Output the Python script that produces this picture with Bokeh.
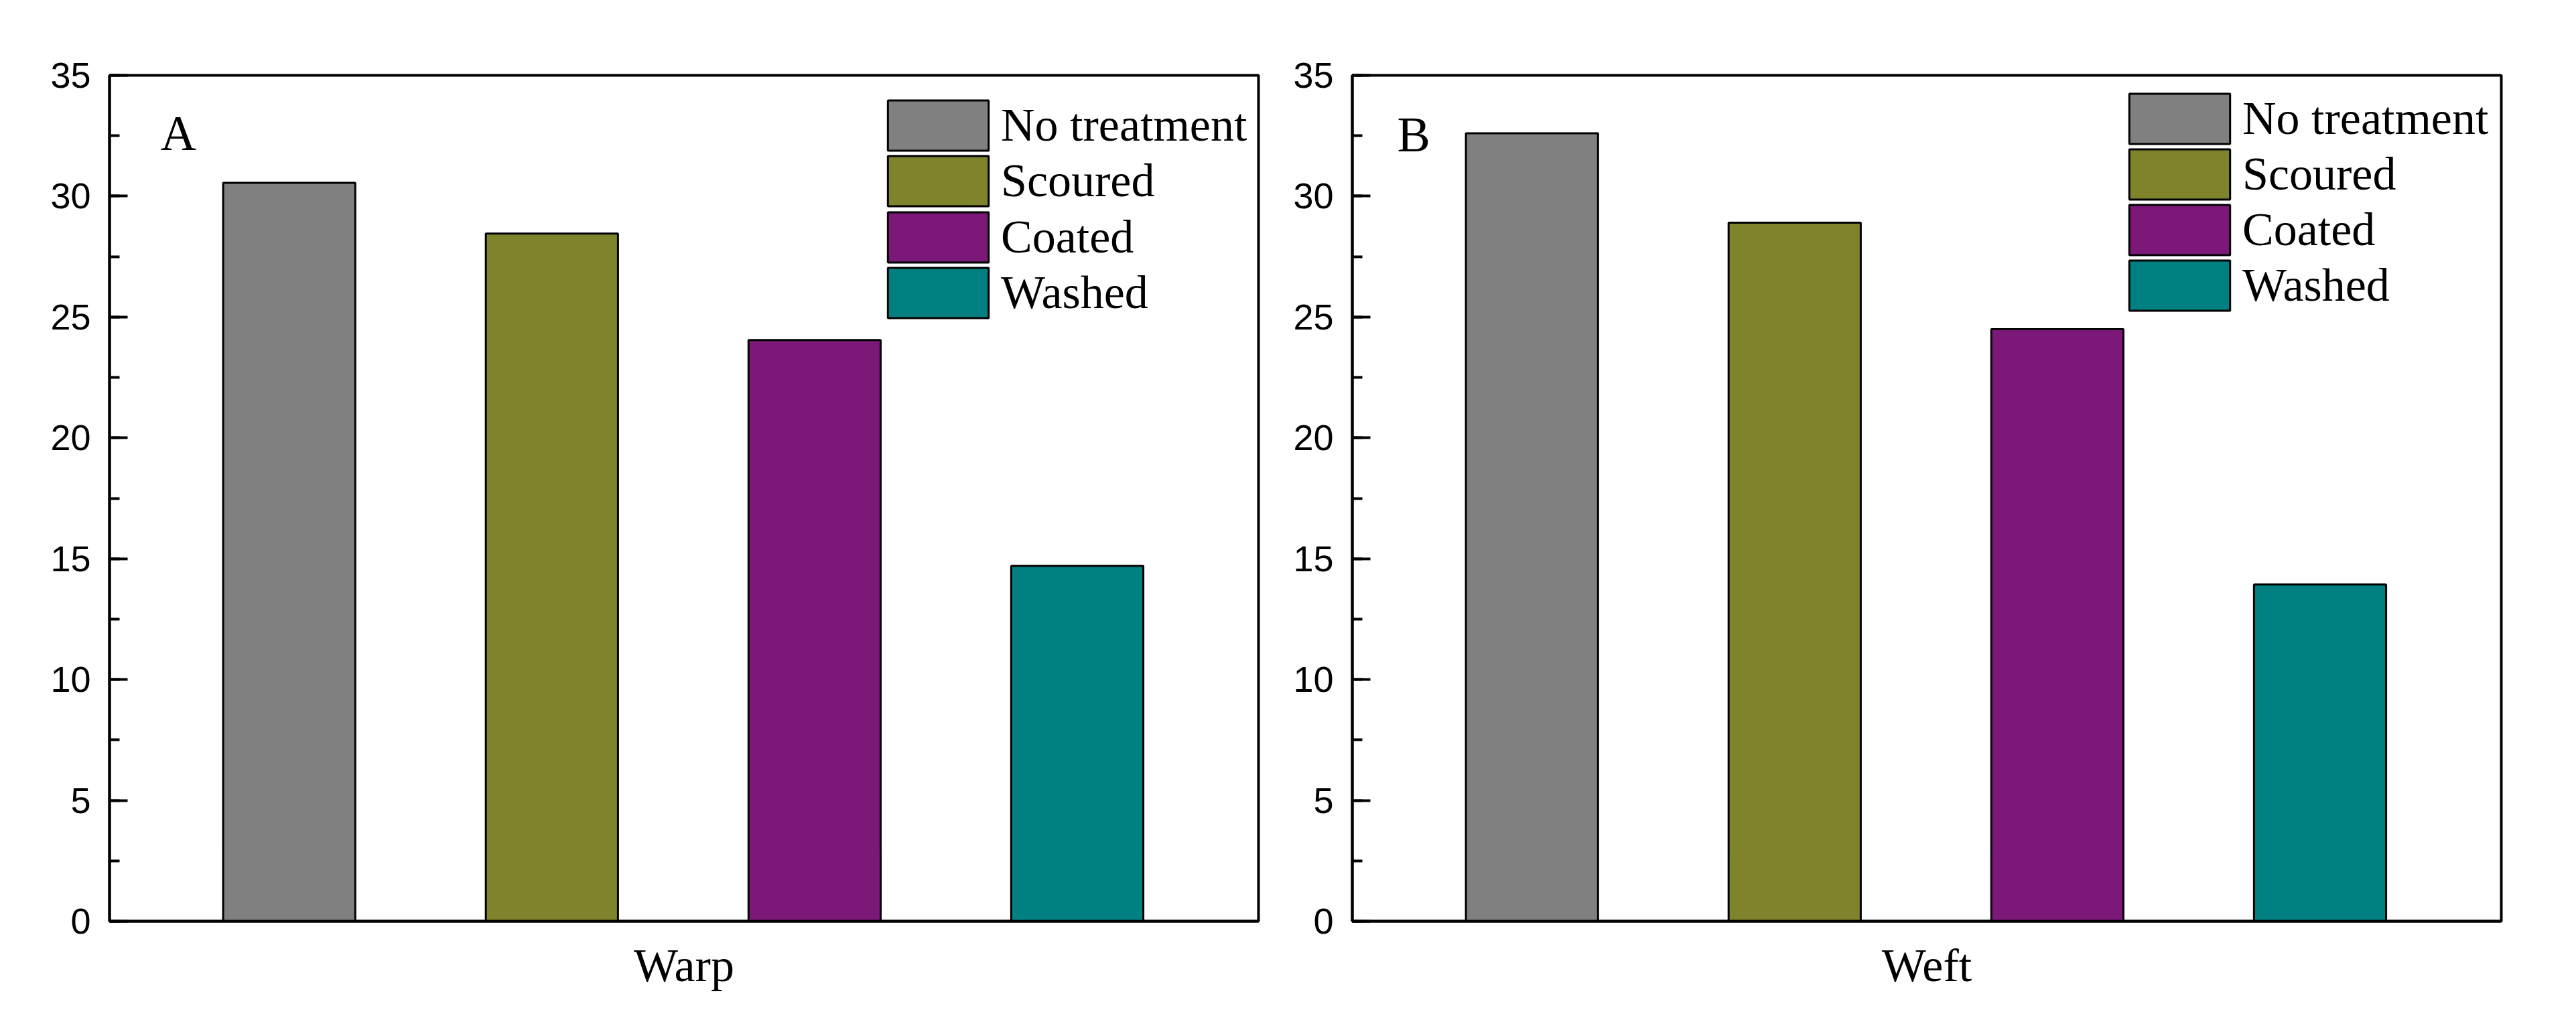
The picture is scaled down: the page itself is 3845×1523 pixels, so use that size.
from bokeh.plotting import figure
from bokeh.models import (ColumnDataSource, SingleIntervalTicker, FixedTicker, Range1d,
                          Legend, LegendItem)
from bokeh.layouts import row
from bokeh.embed import file_html
from bokeh.resources import INLINE
from bokeh.core.properties import value

# ---- data ----
treatments = ["No treatment", "Scoured", "Coated", "Washed"]
positions = [1, 2, 3, 4]
colors = ["#808080", "#7F832B", "#7B1878", "#008080"]
warp = [30.55, 28.45, 24.05, 14.7]
weft = [32.6, 28.9, 24.5, 13.93]
panel_letters = ["A", "B"]
axis_titles = ["Warp", "Weft"]

SERIF = "Liberation Serif"
SANS = "Liberation Sans"

FRAME_H = 1263
GLYPH_H = 94   # bokeh insets area swatches by 10% per side -> ~75 px boxes
GLYPH_W = 188  # -> ~150 px boxes


def make_panel(vals, letter, xtitle, width, bl, br, leg_x, leg_top, leg_pitch, letter_x, letter_y):
    src = ColumnDataSource(dict(x=positions, top=vals, color=colors, label=treatments))
    p = figure(width=width, height=1507, output_backend="svg", toolbar_location=None,
               x_range=Range1d(0.316, 4.69), y_range=Range1d(0, 35),
               min_border_left=bl, min_border_right=br, min_border_top=112,
               min_border_bottom=132)
    p.grid.visible = False
    p.background_fill_color = "white"
    p.border_fill_color = "white"
    p.outline_line_color = "black"
    p.outline_line_width = 4

    r = p.vbar(x="x", top="top", width=0.503, bottom=0, source=src,
               fill_color="color", line_color="black", line_width=3)

    # y axis
    ya = p.yaxis[0]
    ya.ticker = SingleIntervalTicker(interval=5, num_minor_ticks=2)
    ya.axis_line_width = 4
    ya.major_tick_in = 27
    ya.major_tick_out = 0
    ya.minor_tick_in = 15
    ya.minor_tick_out = 0
    ya.major_tick_line_width = 4
    ya.minor_tick_line_width = 4
    ya.major_label_standoff = 28
    ya.major_label_text_font = SANS
    ya.major_label_text_font_size = "54px"
    ya.major_label_text_color = "black"

    # x axis
    xa = p.xaxis[0]
    xa.ticker = FixedTicker(ticks=[])
    xa.axis_line_width = 4
    xa.major_tick_in = 0
    xa.major_tick_out = 0
    xa.minor_tick_in = 0
    xa.minor_tick_out = 0
    xa.major_label_standoff = 0
    xa.axis_label = xtitle
    xa.axis_label_text_font = SERIF
    xa.axis_label_text_font_size = "70px"
    xa.axis_label_text_font_style = "normal"
    xa.axis_label_text_color = "black"
    xa.axis_label_standoff = 27

    # panel letter
    p.text(x=[letter_x], y=[letter_y], text=[letter], text_font=value(SERIF),
           text_font_size="74px", text_color="black", text_baseline="alphabetic",
           text_align="left")

    # one single-item legend per treatment so the boxes can sit close together
    for i, name in enumerate(treatments):
        top_off = leg_top + i * leg_pitch
        leg = Legend(location=(leg_x, FRAME_H - top_off - GLYPH_H))
        leg.items = [LegendItem(label=name, renderers=[r], index=i)]
        leg.glyph_width = GLYPH_W
        leg.glyph_height = GLYPH_H
        leg.spacing = 0
        leg.label_standoff = 0
        leg.padding = 0
        leg.margin = 0
        leg.border_line_alpha = 0
        leg.background_fill_alpha = 0
        leg.label_text_font = SERIF
        leg.label_text_font_size = "70px"
        leg.label_text_color = "black"
        p.add_layout(leg)
    return p


pA = make_panel(warp, panel_letters[0], axis_titles[0], 1917, 163, 39, 1143, 27.6, 83.6, 0.51, 32.6)
pB = make_panel(weft, panel_letters[1], axis_titles[1], 1912, 101, 96, 1141, 18.2, 83.0, 0.487, 32.55)

layout = row(pA, pB)
open("out.html", "w").write(file_html(layout, INLINE))
